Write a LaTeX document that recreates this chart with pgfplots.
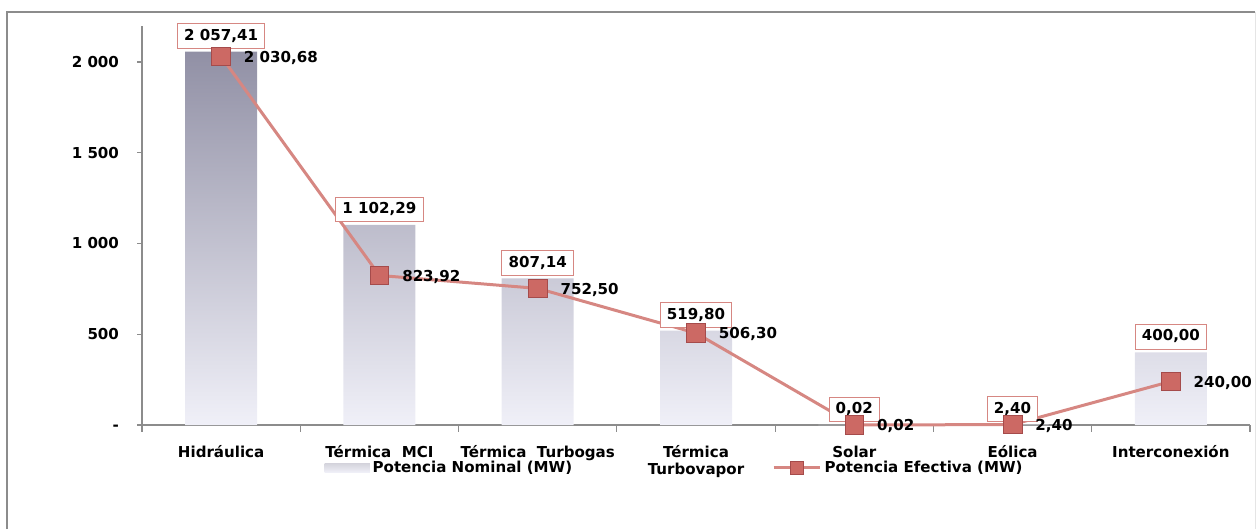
\documentclass[border=0pt]{standalone}
\usepackage{fontspec}
\setmainfont{DejaVu Sans}
\usepackage{pgfplots}
\usepackage{pgfplotstable}
\pgfplotsset{compat=1.18}
\definecolor{linered}{RGB}{214,135,130}
\definecolor{markred}{RGB}{204,105,100}
\definecolor{markedge}{RGB}{165,75,75}
\definecolor{bartop}{RGB}{145,144,165}
\definecolor{barbot}{RGB}{240,240,248}
\definecolor{axgray}{RGB}{140,140,140}
\pgfplotsset{
  lineleg/.style={legend image code/.code={\draw[##1, mark size=5pt, mark repeat=2, mark phase=2] plot coordinates {(0pt,0pt)(17.5pt,0pt)(35pt,0pt)};}},
  barleg/.style={legend image code/.code={\fill[top color=bartop!40, bottom color=barbot] (0pt,-3.5pt) rectangle (34pt,3.5pt);}},
}
\pgfplotstableread{
x nom ef
0 2057.41 2030.68
1 1102.29 823.92
2 807.14 752.50
3 519.80 506.30
4 0.02 0.02
5 2.40 2.40
6 400.00 240.00
}\data
\begin{document}
\begin{tikzpicture}[font=\fontsize{11.3}{13}\selectfont\bfseries]
\begin{axis}[
  at={(106.5pt,78pt)}, anchor=south west,
  scale only axis, width=831pt, height=299.5pt,
  xmin=-0.5, xmax=6.5, ymin=0, ymax=2200,
  axis x line*=bottom, axis y line*=left,
  axis line style={axgray, line width=0.9pt, -},
  tick align=outside,
  major tick length=3.75pt, minor tick length=5pt,
  typeset ticklabels with strut,
  ytick={0,500,1000,1500,2000},
  yticklabels={-,500,1 000,1 500,2 000},
  yticklabel style={xshift=-10pt, yshift=-1.5pt},
  xtick={0,...,6},
  xticklabels={Hidráulica,Térmica\ \ MCI,Térmica\ \ Turbogas,Térmica\\Turbovapor,Solar,Eólica,Interconexión},
  xticklabel style={align=center, yshift=-8pt},
  minor xtick={-0.5,0.5,...,6.5},
  major x tick style={draw=none},
  minor x tick style={axgray, line width=0.9pt},
  ytick style={axgray, line width=0.9pt},
  clip=false,
  /pgf/number format/fixed,
  /pgf/number format/fixed zerofill,
  /pgf/number format/precision=2,
  /pgf/number format/use comma,
  /pgf/number format/1000 sep={\ },
  /pgf/number format/assume math mode=true,
  legend style={draw=none, fill=none, at={(0.161,-0.107)}, anchor=west,
    legend columns=2, font=\fontsize{11.3}{13}\selectfont\bfseries,
    /tikz/every even column/.append style={column sep=148pt},
    nodes={inner sep=2pt}},
]
\addplot[ybar, bar width=54pt, draw=none, top color=bartop, bottom color=barbot, barleg]
  table[x=x, y=nom]{\data};
\addlegendentry{Potencia Nominal (MW)}
\addplot[forget plot, draw=none, mark=none, nodes near coords,
  every node near coord/.append style={draw=linered, line width=0.75pt, fill=white, text=black,
    inner xsep=5pt, inner ysep=4pt, text height=8.3pt, text depth=2.2pt, anchor=south, yshift=2pt}]
  table[x=x, y=nom]{\data};
\addplot[linered, line width=2.25pt, mark=square*, mark size=7pt,
  mark options={fill=markred, draw=markedge, line width=0.6pt},
  nodes near coords,
  every node near coord/.append style={anchor=west, xshift=13.5pt, yshift=-1pt, text=black},
  lineleg]
  table[x=x, y=ef]{\data};
\addlegendentry{Potencia Efectiva (MW)}
\end{axis}
\draw[axgray, line width=1pt] (5.25pt,0pt) -- (5.25pt,387.75pt) -- (941.25pt,387.75pt);
\draw[black!10, line width=0.75pt] (941.25pt,387.75pt) -- (941.25pt,0pt);
\pgfresetboundingbox
\path (0pt,0pt) rectangle (942.75pt,396.75pt);
\end{tikzpicture}
\end{document}
